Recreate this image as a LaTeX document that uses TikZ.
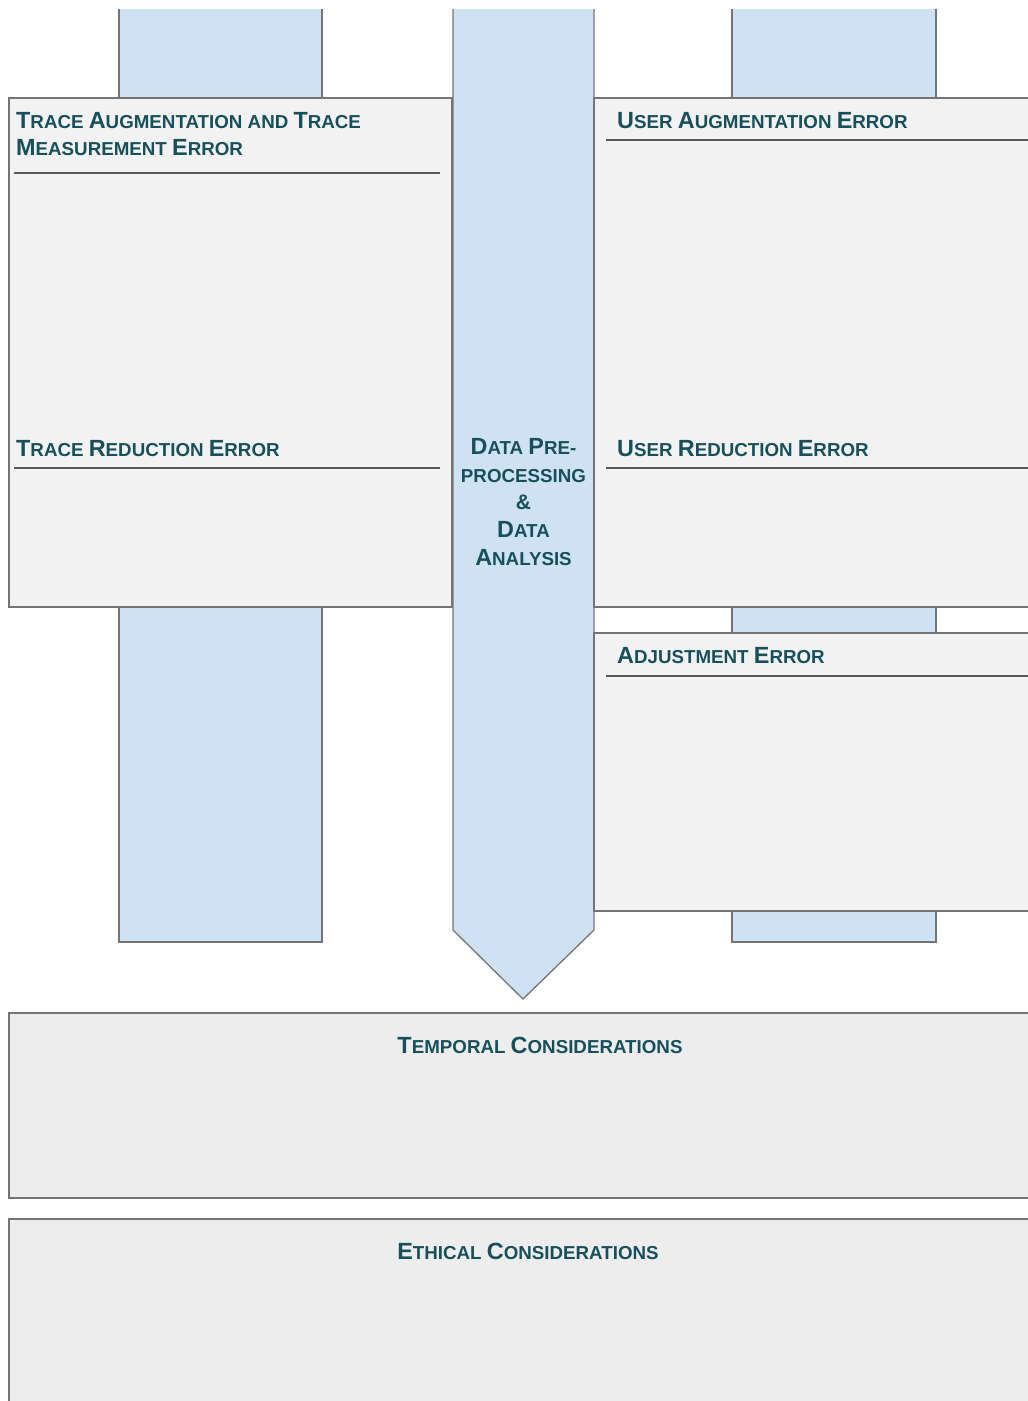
\documentclass[tikz,border=0pt]{standalone}
\usepackage{fontspec}
\setmainfont{Liberation Sans}
\definecolor{txt}{HTML}{17505C}
\definecolor{bluefill}{HTML}{CFE2F3}
\definecolor{panelfill}{HTML}{F2F2F2}
\definecolor{lowfill}{HTML}{EDEDED}
\definecolor{border}{HTML}{747474}
\definecolor{rule}{HTML}{5A5A5A}
\newcommand\scL[1]{{\fontsize{23.4}{27}\selectfont #1}}
\newcommand\scS[1]{{\fontsize{18.75}{27}\selectfont #1}}
\tikzset{
  column/.style={fill=bluefill, draw=border, line width=1.3pt},
  panel/.style={fill=panelfill, draw=border, line width=1.3pt},
  lowpanel/.style={fill=lowfill, draw=border, line width=1.3pt},
  headrule/.style={draw=rule, line width=1.2pt},
  title/.style={text=txt, inner sep=0pt, font=\fontsize{18.75}{27}\selectfont\bfseries},
}
\begin{document}
\begin{tikzpicture}[x=1pt,y=-1pt]
\useasboundingbox (0,0) rectangle (1028,1401);
\clip (0,9) rectangle (1028,1401);
% blue columns
\draw[column] (119,0) rectangle (322,942);
\draw[column] (732,0) rectangle (936,942);
% central arrow
\draw[column] (453,0) -- (594,0) -- (594,930) -- (523,999) -- (453,930) -- cycle;
% left panel
\draw[panel] (9,98) rectangle (452,607);
\draw[headrule] (14,173) -- (440,173);
\draw[headrule] (14,468) -- (440,468);
% right top panel
\draw[panel] (594,98) rectangle (1040,607);
\draw[headrule] (606,140) -- (1040,140);
\draw[headrule] (606,468) -- (1040,468);
% adjustment panel
\draw[panel] (594,633) rectangle (1040,911);
\draw[headrule] (606,676) -- (1040,676);
% bottom panels
\draw[lowpanel] (9,1013) rectangle (1040,1198);
\draw[lowpanel] (9,1219) rectangle (1040,1420);
% titles
\node[title, anchor=base west] (ta1) at (16,128.5) {\scL{T}\scS{RACE} \scL{A}\scS{UGMENTATION AND} \scL{T}\scS{RACE}};
\node[title, anchor=base west] (ta2) at (16,155.5) {\scL{M}\scS{EASUREMENT} \scL{E}\scS{RROR}};
\node[title, anchor=base west] (tr) at (16,456) {\scL{T}\scS{RACE} \scL{R}\scS{EDUCTION} \scL{E}\scS{RROR}};
\node[title, anchor=base west] (ua) at (617,128.5) {\scL{U}\scS{SER} \scL{A}\scS{UGMENTATION} \scL{E}\scS{RROR}};
\node[title, anchor=base west] (ur) at (617,456) {\scL{U}\scS{SER} \scL{R}\scS{EDUCTION} \scL{E}\scS{RROR}};
\node[title, anchor=base west] (adj) at (617,663) {\scL{A}\scS{DJUSTMENT} \scL{E}\scS{RROR}};
\node[title, anchor=base] (c1) at (523.5,454) {\scL{D}\scS{ATA} \scL{P}\scS{RE-}};
\node[title, anchor=base] (c2) at (523.5,482) {\scS{PROCESSING}};
\node[title, anchor=base] (c3) at (523.5,509) {{\fontsize{21}{27}\selectfont\&}};
\node[title, anchor=base] (c4) at (523.5,537) {\scL{D}\scS{ATA}};
\node[title, anchor=base] (c5) at (523.5,565) {\scL{A}\scS{NALYSIS}};
\node[title, anchor=base] (temp) at (540,1053.5) {\scL{T}\scS{EMPORAL} \scL{C}\scS{ONSIDERATIONS}};
\node[title, anchor=base] (eth) at (528,1259) {\scL{E}\scS{THICAL} \scL{C}\scS{ONSIDERATIONS}};
\end{tikzpicture}
\end{document}
